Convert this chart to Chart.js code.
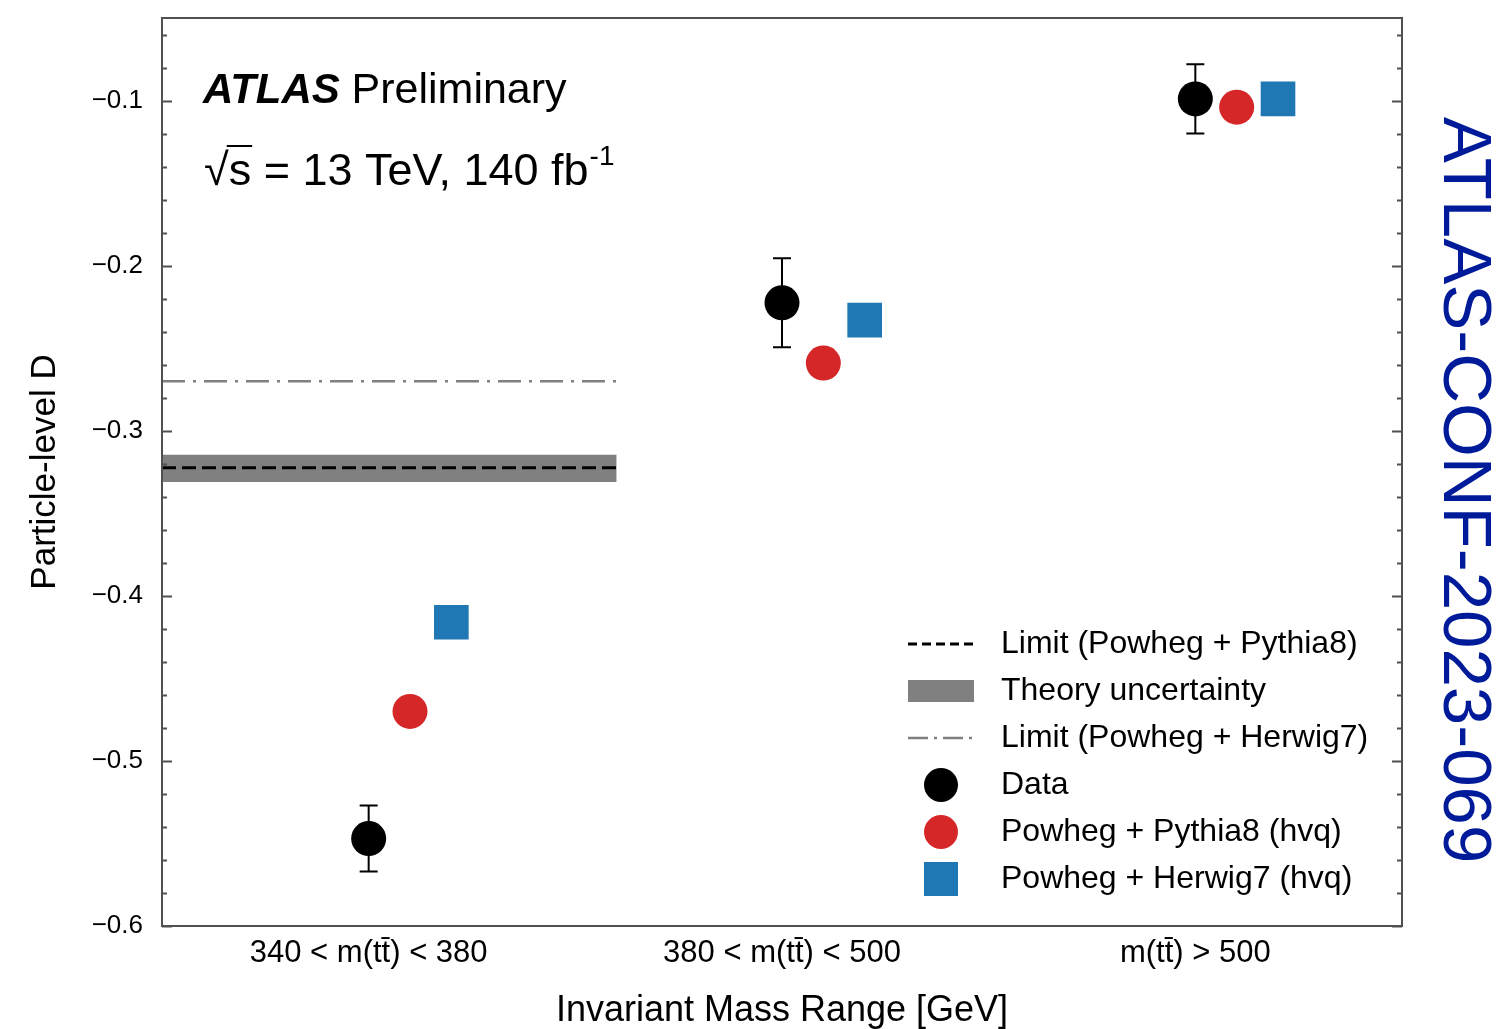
<!DOCTYPE html>
<html lang="en">
<head>
    <meta charset="UTF-8">
    <title>Particle-level D vs invariant mass</title>
    <script src="https://cdn.jsdelivr.net/npm/chart.js"></script>
    <style>
* {
    margin: 0;
    padding: 0;
    box-sizing: border-box;
}

html, body {
    background: #fff;
    overflow: hidden;
}

.chart-container {
    width: 1496px;
    height: 1029px;
    position: relative;
}
    </style>
</head>

<body>
    <div class="chart-container">
        <canvas id="dChart" width="1496" height="1029"></canvas>
    </div>

    <script>
        // values
        const categories = ['340 < m(tt\u0304) < 380', '380 < m(tt\u0304) < 500', 'm(tt\u0304) > 500'];
        const dataD = [-0.547, -0.2225, -0.099];
        const dataErr = [0.020, 0.027, 0.021];
        const pythiaD = [-0.470, -0.259, -0.104];
        const herwigD = [-0.416, -0.233, -0.099];
        const limitPythia = -0.3225;
        const limitBand = [-0.331, -0.3145];
        const limitHerwig = -0.270;
        const limitRange = [-0.5, 0.6];   // limits only drawn over the first bin
        const yTicks = [-0.6, -0.5, -0.4, -0.3, -0.2, -0.1];

        const FONT = "'Liberation Sans', Arial, sans-serif";
        const RED = '#d62728';
        const BLUE = '#1f77b4';
        const GREY = '#808080';

        const pts = (vals, off) => vals.map((v, i) => ({ x: i + off, y: v }));
        const hline = v => limitRange.map(x => ({ x: x, y: v }));

        // frame, inside ticks, error bars, legend and labels
        const atlasDecor = {
            id: 'atlasDecor',
            afterDatasetsDraw(chart) {
                const ctx = chart.ctx;
                const { left, right, top, bottom } = chart.chartArea;
                const ys = chart.scales.y;
                const xs = chart.scales.x;

                // error bars on data
                ctx.save();
                ctx.strokeStyle = '#000';
                ctx.lineWidth = 2;
                dataD.forEach((v, i) => {
                    const px = xs.getPixelForValue(i);
                    const y1 = ys.getPixelForValue(v + dataErr[i]);
                    const y2 = ys.getPixelForValue(v - dataErr[i]);
                    ctx.beginPath();
                    ctx.moveTo(px, y1); ctx.lineTo(px, y2);
                    ctx.moveTo(px - 9, y1); ctx.lineTo(px + 9, y1);
                    ctx.moveTo(px - 9, y2); ctx.lineTo(px + 9, y2);
                    ctx.stroke();
                });
                ctx.restore();

                // frame
                ctx.save();
                ctx.strokeStyle = '#505050';
                ctx.lineWidth = 2;
                ctx.strokeRect(left, top, right - left, bottom - top);

                // y ticks on both sides, pointing in
                for (let k = 0; k <= 27; k++) {
                    const v = -0.6 + k * 0.02;
                    if (v > ys.max + 1e-9) break;
                    const py = Math.round(ys.getPixelForValue(v)) + 0.5;
                    const len = (k % 5 === 0) ? 10 : 5;
                    ctx.beginPath();
                    ctx.moveTo(left, py); ctx.lineTo(left + len, py);
                    ctx.moveTo(right, py); ctx.lineTo(right - len, py);
                    ctx.stroke();
                }
                ctx.restore();

                // ATLAS label
                ctx.save();
                ctx.fillStyle = '#000';
                ctx.textBaseline = 'alphabetic';
                ctx.font = 'italic bold 42px ' + FONT;
                ctx.fillText('ATLAS', 203, 103);
                const w = ctx.measureText('ATLAS ').width;
                ctx.font = '43px ' + FONT;
                ctx.fillText('Preliminary', 203 + w, 103);

                ctx.font = '45px ' + FONT;
                ctx.fillText('\u221A', 204, 185);
                const wr = ctx.measureText('\u221A').width;
                const line2 = 's = 13 TeV, 140 fb';
                ctx.fillText(line2, 204 + wr, 185);
                const ws = ctx.measureText('s').width;
                ctx.strokeStyle = '#000';
                ctx.lineWidth = 2;
                ctx.beginPath();
                ctx.moveTo(204 + wr - 2, 146);
                ctx.lineTo(204 + wr + ws + 1, 146);
                ctx.stroke();
                const w2 = ctx.measureText(line2).width;
                ctx.font = '28px ' + FONT;
                ctx.fillText('-1', 204 + wr + w2 + 1, 165);
                ctx.restore();

                // legend
                ctx.save();
                const lx = 941, tx = 1001;
                const rows = [644, 691, 738, 785, 832, 879];
                const labels = ['Limit (Powheg + Pythia8)', 'Theory uncertainty', 'Limit (Powheg + Herwig7)',
                    'Data', 'Powheg + Pythia8 (hvq)', 'Powheg + Herwig7 (hvq)'];
                ctx.lineWidth = 3;
                ctx.strokeStyle = '#000';
                ctx.setLineDash([9, 5]);
                ctx.beginPath(); ctx.moveTo(908, rows[0]); ctx.lineTo(974, rows[0]); ctx.stroke();
                ctx.setLineDash([]);
                ctx.fillStyle = GREY;
                ctx.fillRect(908, rows[1] - 11, 66, 22);
                ctx.strokeStyle = GREY;
                ctx.lineWidth = 2.5;
                ctx.setLineDash([20, 6, 3, 6]);
                ctx.beginPath(); ctx.moveTo(908, rows[2]); ctx.lineTo(974, rows[2]); ctx.stroke();
                ctx.setLineDash([]);
                ctx.fillStyle = '#000';
                ctx.beginPath(); ctx.arc(lx, rows[3], 17, 0, Math.PI * 2); ctx.fill();
                ctx.fillStyle = RED;
                ctx.beginPath(); ctx.arc(lx, rows[4], 17, 0, Math.PI * 2); ctx.fill();
                ctx.fillStyle = BLUE;
                ctx.fillRect(lx - 17, rows[5] - 17, 34, 34);
                ctx.fillStyle = '#000';
                ctx.font = '32px ' + FONT;
                ctx.textBaseline = 'middle';
                labels.forEach((t, i) => ctx.fillText(t, tx, rows[i]));
                ctx.restore();

                // conference note id down the right edge
                ctx.save();
                ctx.translate(1463, 490);
                ctx.rotate(Math.PI / 2);
                ctx.fillStyle = '#001b99';
                ctx.font = '69px ' + FONT;
                ctx.textAlign = 'center';
                ctx.textBaseline = 'middle';
                ctx.fillText('ATLAS-CONF-2023-069', 0, 0);
                ctx.restore();
            }
        };

        const ctx = document.getElementById('dChart').getContext('2d');

        new Chart(ctx, {
            type: 'scatter',
            data: {
                datasets: [
                    {
                        label: 'Data',
                        data: pts(dataD, 0),
                        backgroundColor: '#000',
                        borderWidth: 0,
                        pointRadius: 17.5
                    },
                    {
                        label: 'Powheg + Pythia8 (hvq)',
                        data: pts(pythiaD, 0.1),
                        backgroundColor: RED,
                        borderWidth: 0,
                        pointRadius: 17.5
                    },
                    {
                        label: 'Powheg + Herwig7 (hvq)',
                        data: pts(herwigD, 0.2),
                        backgroundColor: BLUE,
                        borderWidth: 0,
                        pointStyle: 'rect',
                        pointRadius: 24.5
                    },
                    {
                        label: 'Limit (Powheg + Pythia8)',
                        data: hline(limitPythia),
                        showLine: true,
                        borderColor: '#000',
                        borderWidth: 3,
                        borderDash: [14, 6],
                        pointRadius: 0
                    },
                    {
                        label: 'Limit (Powheg + Herwig7)',
                        data: hline(limitHerwig),
                        showLine: true,
                        borderColor: GREY,
                        borderWidth: 2.5,
                        borderDash: [23, 8, 3, 8],
                        pointRadius: 0
                    },
                    {
                        label: 'band low',
                        data: hline(limitBand[0]),
                        showLine: true,
                        borderWidth: 0,
                        borderColor: 'rgba(0,0,0,0)',
                        pointRadius: 0
                    },
                    {
                        label: 'Theory uncertainty',
                        data: hline(limitBand[1]),
                        showLine: true,
                        borderWidth: 0,
                        borderColor: 'rgba(0,0,0,0)',
                        backgroundColor: GREY,
                        fill: '-1',
                        pointRadius: 0
                    }
                ]
            },
            options: {
                responsive: false,
                animation: false,
                events: [],
                layout: { autoPadding: false, padding: { left: 0, right: 94, top: 18, bottom: 0 } },
                plugins: {
                    legend: { display: false },
                    tooltip: { enabled: false }
                },
                scales: {
                    x: {
                        type: 'linear',
                        min: -0.5,
                        max: 2.5,
                        afterBuildTicks: s => { s.ticks = categories.map((c, i) => ({ value: i })); },
                        afterFit: s => { s.height = 103; s.paddingLeft = 0; s.paddingRight = 0; },
                        grid: { display: false, drawTicks: false },
                        border: { display: false },
                        ticks: {
                            color: '#000',
                            padding: 9,
                            font: { family: FONT, size: 31 },
                            callback: v => categories[v]
                        },
                        title: {
                            display: true,
                            text: 'Invariant Mass Range [GeV]',
                            color: '#000',
                            font: { family: FONT, size: 36, lineHeight: 1.0 },
                            padding: { top: 0, bottom: 0 }
                        }
                    },
                    y: {
                        min: -0.6,
                        max: -0.05,
                        afterBuildTicks: s => { s.ticks = yTicks.map(v => ({ value: v })); },
                        afterFit: s => { s.width = 162; s.paddingTop = 0; s.paddingBottom = 0; },
                        grid: { display: false, drawTicks: false },
                        border: { display: false },
                        ticks: {
                            color: '#000',
                            padding: 19,
                            font: { family: FONT, size: 26 },
                            callback: v => '\u2212' + Math.abs(v).toFixed(1)
                        },
                        title: {
                            display: true,
                            text: 'Particle-level D',
                            color: '#000',
                            font: { family: FONT, size: 35 },
                            padding: { top: 24, bottom: 0 }
                        }
                    }
                }
            },
            plugins: [atlasDecor]
        });
    </script>
</body>
</html>
